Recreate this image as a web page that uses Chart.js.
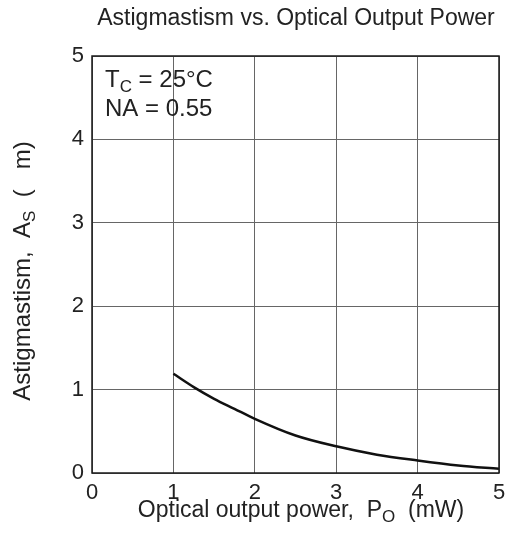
<!DOCTYPE html>
<html>
<head>
<meta charset="utf-8">
<script src="https://cdn.jsdelivr.net/npm/chart.js@4/dist/chart.umd.min.js"></script>
<style>
  html, body { margin: 0; padding: 0; background: #fff; }
  #wrap { width: 514px; height: 543px; position: relative; }
</style>
</head>
<body>
<div id="wrap"><canvas id="astig-chart"></canvas></div>
<script>
const powerValues = [1, 1.25, 1.5, 1.75, 2, 2.5, 3, 3.5, 4, 4.5, 5];
const astigValues = [1.19, 1.03, 0.89, 0.77, 0.65, 0.45, 0.32, 0.22, 0.15, 0.09, 0.05];
const xTicks = [0, 1, 2, 3, 4, 5];
const yTicks = [0, 1, 2, 3, 4, 5];

const FONT = '"Liberation Sans", Arial, sans-serif';
const TEXT = '#222';

// draw a line of text where some pieces are subscripts
function drawParts(ctx, parts, x, y, align, size) {
  const subSize = Math.round(size * 0.72);
  let total = 0;
  parts.forEach(p => {
    ctx.font = (p[1] ? subSize : size) + 'px ' + FONT;
    total += ctx.measureText(p[0]).width;
  });
  let cx = align === 'center' ? x - total / 2 : x;
  ctx.textAlign = 'left';
  ctx.textBaseline = 'alphabetic';
  parts.forEach(p => {
    ctx.font = (p[1] ? subSize : size) + 'px ' + FONT;
    ctx.fillText(p[0], cx, y + (p[1] ? 5 : 0));
    cx += ctx.measureText(p[0]).width;
  });
}

const textPlugin = {
  id: 'textPlugin',
  afterDraw(chart) {
    const ctx = chart.ctx;
    const a = chart.chartArea;
    ctx.save();
    // frame
    ctx.strokeStyle = '#1a1a1a';
    ctx.lineWidth = 1.5;
    ctx.strokeRect(a.left, a.top, a.right - a.left, a.bottom - a.top);

    ctx.fillStyle = TEXT;
    drawParts(ctx, [['Astigmastism vs. Optical Output Power', 0]], 296, 25, 'center', 23);
    drawParts(ctx, [['Optical output power,  P', 0], ['O', 1], ['  (mW)', 0]], 301, 517, 'center', 23);
    drawParts(ctx, [['T', 0], ['C', 1], [' = 25°C', 0]], 105, 87, 'left', 24);
    drawParts(ctx, [['NA = 0.55', 0]], 105, 116, 'left', 24);

    ctx.translate(30, 271);
    ctx.rotate(-Math.PI / 2);
    drawParts(ctx, [['Astigmastism,  A', 0], ['S', 1], ['  (   m)', 0]], 0, 0, 'center', 24);
    ctx.restore();
  }
};

new Chart(document.getElementById('astig-chart').getContext('2d'), {
  type: 'line',
  data: {
    datasets: [{
      data: powerValues.map((p, i) => ({ x: p, y: astigValues[i] })),
      borderColor: '#111',
      borderWidth: 2.5,
      pointRadius: 0,
      fill: false,
      cubicInterpolationMode: 'monotone'
    }]
  },
  options: {
    responsive: true,
    maintainAspectRatio: false,
    animation: false,
    devicePixelRatio: 1,
    layout: { padding: { left: 0, right: 15, top: 56, bottom: 0 } },
    plugins: {
      legend: { display: false },
      title: { display: false },
      tooltip: { enabled: false }
    },
    scales: {
      x: {
        type: 'linear',
        min: 0,
        max: 5,
        afterBuildTicks: s => { s.ticks = xTicks.map(v => ({ value: v })); },
        afterFit: s => { s.height = 70; },
        grid: { color: '#666', lineWidth: 1, drawTicks: false },
        border: { display: false },
        ticks: { color: TEXT, font: { size: 22, family: FONT }, padding: 7, maxRotation: 0 }
      },
      y: {
        type: 'linear',
        min: 0,
        max: 5,
        afterBuildTicks: s => { s.ticks = yTicks.map(v => ({ value: v })); },
        afterFit: s => { s.width = 92; },
        grid: { color: '#666', lineWidth: 1, drawTicks: false },
        border: { display: false },
        ticks: { color: TEXT, font: { size: 22, family: FONT }, padding: 8 }
      }
    }
  },
  plugins: [textPlugin]
});
</script>
</body>
</html>
